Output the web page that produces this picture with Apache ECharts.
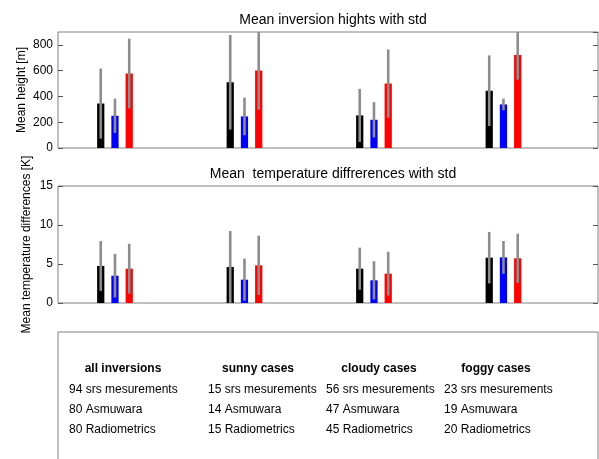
<!DOCTYPE html>
<html>
<head>
<meta charset="utf-8">
<script src="https://cdn.jsdelivr.net/npm/echarts@6/dist/echarts.min.js"></script>
<style>
html,body{margin:0;padding:0;background:#fff;}
#chart{width:599px;height:459px;}
</style>
</head>
<body>
<div id="chart"></div>
<script>
// ---- data ----
const categories = ['all inversions', 'sunny cases', 'cloudy cases', 'foggy cases'];
const instruments = ['srs', 'Asmuwara', 'Radiometrics'];

const heightSrs = [345, 510, 253, 444];
const heightSrsStd = [272, 367, 206, 274];
const heightAsm = [250, 245, 219, 338];
const heightAsmStd = [133, 146, 137, 45];
const heightRad = [578, 601, 500, 722];
const heightRadStd = [270, 304, 265, 191];

const tempSrs = [4.75, 4.62, 4.40, 5.81];
const tempSrsStd = [3.2, 4.6, 2.7, 3.3];
const tempAsm = [3.5, 2.99, 2.91, 5.85];
const tempAsmStd = [2.8, 2.7, 2.45, 2.1];
const tempRad = [4.4, 4.83, 3.76, 5.73];
const tempRadStd = [3.2, 3.8, 2.8, 3.15];

const heightTicks = [0, 200, 400, 600, 800];
const tempTicks = [0, 5, 10, 15];

const srsCounts = [94, 15, 56, 23];
const asmCounts = [80, 14, 47, 19];
const radCounts = [80, 15, 45, 20];

const titleTop = 'Mean inversion hights with std';
const titleBottom = 'Mean  temperature diffrerences with std';
const yNameTop = 'Mean height [m]';
const yNameBottom = 'Mean temperature differences [K]';

// ---- layout/style ----
const FONT = 'Liberation Sans, Arial, Helvetica, sans-serif';
const colors = ['#000000', '#0000ff', '#ff0000'];
const offsets = [-0.11, 0, 0.11];
const halfBar = 0.028;
const errColor = '#8c8c8c';
const frameColor = '#808080';

function buildData(means, stds, k) {
  return means.map((m, i) => [i + 1 + offsets[k], m, stds[i]]);
}

function renderBar(color) {
  return function (params, api) {
    const x = api.value(0), m = api.value(1), s = api.value(2);
    const pL = api.coord([x - halfBar, m]);
    const pR = api.coord([x + halfBar, 0]);
    const eTop = api.coord([x, m + s]);
    const eBot = api.coord([x, Math.max(m - s, 0)]);
    const cs = params.coordSys;
    const clipTop = Math.max(eTop[1], cs.y);
    return {
      type: 'group',
      children: [
        { type: 'rect', shape: { x: pL[0], y: pL[1], width: pR[0] - pL[0], height: pR[1] - pL[1] }, style: { fill: color } },
        { type: 'line', shape: { x1: eTop[0], y1: clipTop, x2: eBot[0], y2: eBot[1] }, style: { stroke: errColor, lineWidth: 2.6 } }
      ]
    };
  };
}

const heightSets = [[heightSrs, heightSrsStd], [heightAsm, heightAsmStd], [heightRad, heightRadStd]];
const tempSets = [[tempSrs, tempSrsStd], [tempAsm, tempAsmStd], [tempRad, tempRadStd]];

const series = [];
heightSets.forEach((d, k) => {
  series.push({ type: 'custom', name: instruments[k], xAxisIndex: 0, yAxisIndex: 0, clip: true,
    renderItem: renderBar(colors[k]), data: buildData(d[0], d[1], k) });
});
tempSets.forEach((d, k) => {
  series.push({ type: 'custom', name: instruments[k], xAxisIndex: 1, yAxisIndex: 2, clip: true,
    renderItem: renderBar(colors[k]), data: buildData(d[0], d[1], k) });
});

function yAxisDef(grid, ticks, side, name, gap) {
  const interval = ticks[1] - ticks[0];
  return {
    type: 'value', gridIndex: grid, position: side,
    min: ticks[0], max: grid === 0 ? 900 : ticks[ticks.length - 1], interval: interval,
    name: side === 'left' ? name : '', nameLocation: 'middle', nameGap: gap, nameMoveOverlap: false,
    nameTextStyle: { fontFamily: FONT, fontSize: 12, color: '#000' },
    axisLine: { show: false },
    axisTick: { show: true, inside: true, length: 5, lineStyle: { color: '#555' } },
    axisLabel: { show: side === 'left', showMaxLabel: grid === 1, margin: 5, fontFamily: FONT, fontSize: 12, color: '#000' },
    splitLine: { show: false }
  };
}

const headerX = [123, 258, 379, 496];
const colX = [69, 208, 326, 444];
const graphics = [
  { type: 'rect', shape: { x: 58, y: 332, width: 540, height: 140 }, style: { fill: 'none', stroke: frameColor, lineWidth: 1 } }
];
categories.forEach((c, i) => {
  graphics.push({ type: 'text', x: headerX[i], y: 369, style: { text: c, font: 'bold 12px ' + FONT, fill: '#000', align: 'center', verticalAlign: 'middle' } });
  graphics.push({ type: 'text', x: colX[i], y: 390, style: { text: srsCounts[i] + ' srs mesurements', font: '12px ' + FONT, fill: '#000', align: 'left', verticalAlign: 'middle' } });
  graphics.push({ type: 'text', x: colX[i], y: 410, style: { text: asmCounts[i] + ' Asmuwara', font: '12px ' + FONT, fill: '#000', align: 'left', verticalAlign: 'middle' } });
  graphics.push({ type: 'text', x: colX[i], y: 430, style: { text: radCounts[i] + ' Radiometrics', font: '12px ' + FONT, fill: '#000', align: 'left', verticalAlign: 'middle' } });
});

const chart = echarts.init(document.getElementById('chart'), null, { renderer: 'canvas' });
chart.setOption({
  animation: false,
  backgroundColor: '#fff',
  title: [
    { text: titleTop, left: 328, top: 8, textAlign: 'center', textStyle: { fontFamily: FONT, fontSize: 14, fontWeight: 'normal', color: '#000' } },
    { text: titleBottom, left: 328, top: 162, textAlign: 'center', textStyle: { fontFamily: FONT, fontSize: 14, fontWeight: 'normal', color: '#000' } }
  ],
  grid: [
    { left: 58, top: 32, width: 540, height: 116, show: true, borderColor: frameColor, borderWidth: 1, backgroundColor: 'transparent' },
    { left: 58, top: 186, width: 540, height: 117, show: true, borderColor: frameColor, borderWidth: 1, backgroundColor: 'transparent' }
  ],
  xAxis: [
    { type: 'value', gridIndex: 0, min: 0.56, max: 4.73, show: false },
    { type: 'value', gridIndex: 1, min: 0.56, max: 4.73, show: false }
  ],
  yAxis: [
    yAxisDef(0, heightTicks, 'left', yNameTop, 30),
    yAxisDef(0, heightTicks, 'right', '', 0),
    yAxisDef(1, tempTicks, 'left', yNameBottom, 25),
    yAxisDef(1, tempTicks, 'right', '', 0)
  ],
  series: series,
  graphic: graphics
});
</script>
</body>
</html>
